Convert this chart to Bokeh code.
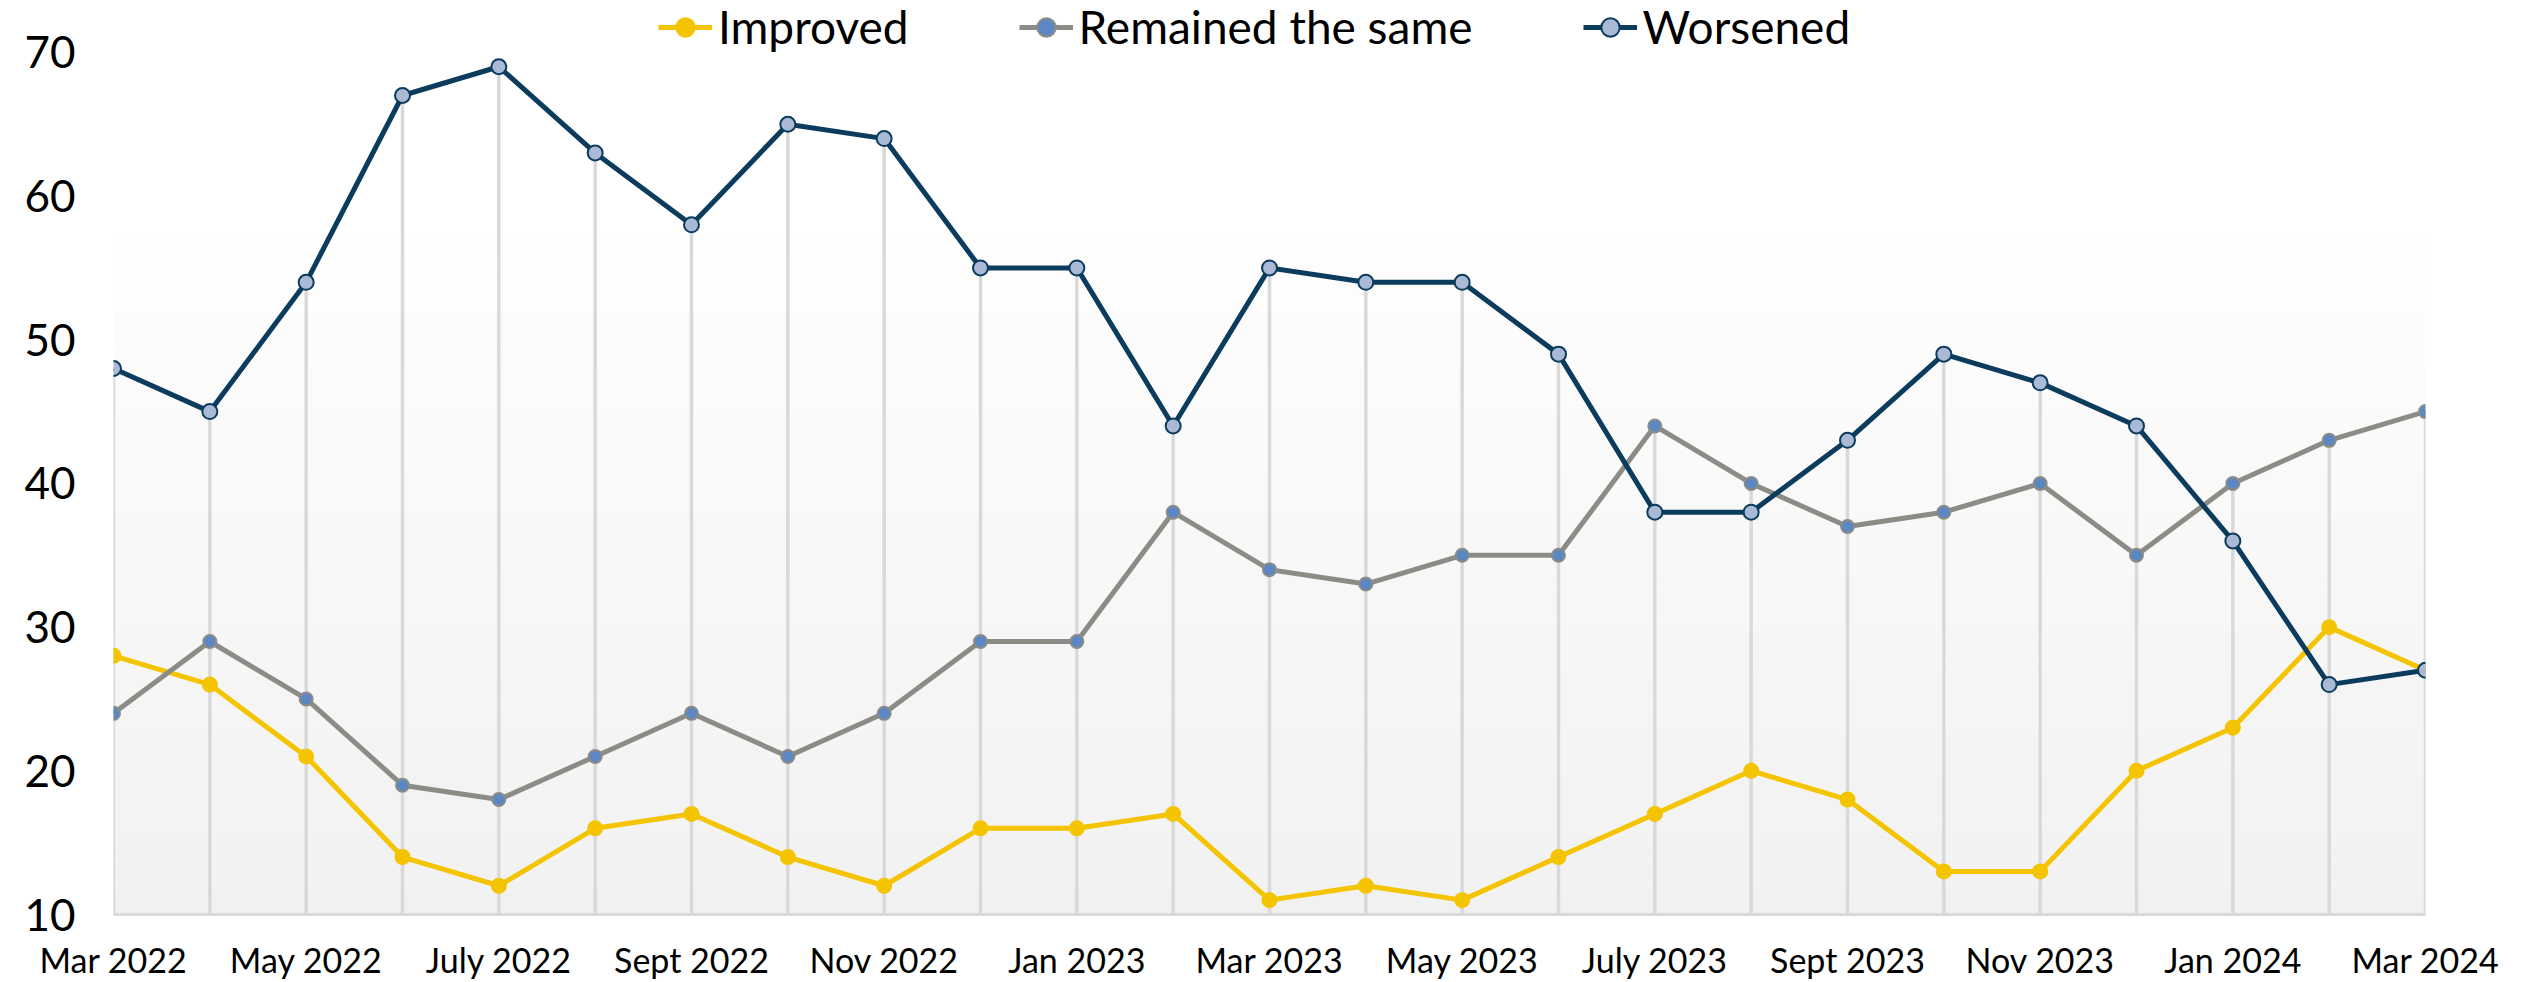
import numpy as np
from bokeh.plotting import figure
from bokeh.models import Range1d, FixedTicker, Legend, LegendItem
from bokeh.embed import file_html
from bokeh.resources import INLINE

months = ["Mar 2022", "Apr 2022", "May 2022", "Jun 2022", "July 2022", "Aug 2022",
          "Sept 2022", "Oct 2022", "Nov 2022", "Dec 2022", "Jan 2023", "Feb 2023",
          "Mar 2023", "Apr 2023", "May 2023", "Jun 2023", "July 2023", "Aug 2023",
          "Sept 2023", "Oct 2023", "Nov 2023", "Dec 2023", "Jan 2024", "Feb 2024",
          "Mar 2024"]
improved = [28, 26, 21, 14, 12, 16, 17, 14, 12, 16, 16, 17, 11, 12, 11, 14, 17, 20,
            18, 13, 13, 20, 23, 30, 27]
remained = [24, 29, 25, 19, 18, 21, 24, 21, 24, 29, 29, 38, 34, 33, 35, 35, 44, 40,
            37, 38, 40, 35, 40, 43, 45]
worsened = [48, 45, 54, 67, 69, 63, 58, 65, 64, 55, 55, 44, 55, 54, 54, 49, 38, 38,
            43, 49, 47, 44, 36, 26, 27]
series_names = ["Improved", "Remained the same", "Worsened"]
y_ticks = [10, 20, 30, 40, 50, 60, 70]
label_every = 2

FONT = "Lato"
x = np.arange(len(months))

# frame spans the whole height above the x axis; values 10..70 occupy the lower 864 px
frame_h = 916
y_lo, y_hi_tick = 10, 70
y_top = y_lo + frame_h * (y_hi_tick - y_lo) / 864.0

p = figure(width=2531, height=982, output_backend="svg", toolbar_location=None,
           x_range=Range1d(0, len(months) - 1), y_range=Range1d(y_lo, y_top),
           min_border_left=113, min_border_right=106, min_border_top=0,
           min_border_bottom=66)
p.outline_line_color = None
p.background_fill_color = "white"
p.border_fill_color = "white"
p.xgrid.visible = False
p.ygrid.visible = False

# gradient plot-area background (style only)
g_top, g_bot = 57.5, 10.0
nb = 60
edges = np.linspace(g_bot, g_top, nb + 1)
c_top = np.array([0xfe, 0xfe, 0xfe])
c_bot = np.array([0xf1, 0xf1, 0xf1])
cols = []
for i in range(nb):
    t = (i + 0.5) / nb
    c = (c_bot * (1 - t) + c_top * t).round().astype(int)
    cols.append("#%02x%02x%02x" % tuple(c))
p.quad(left=0, right=len(months) - 1, bottom=edges[:-1], top=edges[1:],
       fill_color=cols, line_color=None)

# drop lines from highest series value to the axis
hi = np.max(np.vstack([improved, remained, worsened]), axis=0)
p.segment(x0=x, y0=10, x1=x, y1=hi, line_color="#d9d9d9", line_width=3.5)

specs = [
    (improved, "#f5c400", "#f5c400", "#f5c400", 14),
    (remained, "#8c8c87", "#5b87c5", "#8c8c87", 13),
    (worsened, "#0b3c5d", "#a9b9d6", "#0b3c5d", 15),
]
items = []
for (vals, lc, mf, ml, ms), name in zip(specs, series_names):
    lr = p.line(x, vals, line_color=lc, line_width=5)
    sr = p.scatter(x, vals, size=ms, fill_color=mf, line_color=ml, line_width=2)
    items.append(LegendItem(label=name, renderers=[lr, sr]))

legend = Legend(items=items, orientation="horizontal", location=(545, 860),
                label_text_font=FONT, label_text_font_size="46px",
                label_text_color="black", glyph_width=54, glyph_height=46,
                label_standoff=6, spacing=110, padding=0, margin=0,
                border_line_color=None, background_fill_alpha=0)
p.add_layout(legend)

p.yaxis.ticker = FixedTicker(ticks=y_ticks)
p.yaxis.axis_line_color = None
p.yaxis.major_tick_line_color = None
p.yaxis.minor_tick_line_color = None
p.yaxis.major_tick_out = 0
p.yaxis.major_label_standoff = 38
p.yaxis.major_label_text_font = FONT
p.yaxis.major_label_text_font_size = "44px"
p.yaxis.major_label_text_color = "black"

p.xaxis.ticker = FixedTicker(ticks=list(x[::label_every]))
p.xaxis.major_label_overrides = {int(i): months[i] for i in x[::label_every]}
p.xaxis.axis_line_color = "#d9d9d9"
p.xaxis.axis_line_width = 3
p.xaxis.major_tick_line_color = None
p.xaxis.minor_tick_line_color = None
p.xaxis.major_tick_out = 0
p.xaxis.major_label_standoff = 24
p.xaxis.major_label_text_font = FONT
p.xaxis.major_label_text_font_size = "34px"
p.xaxis.major_label_text_color = "black"

open("out.html", "w").write(file_html(p, INLINE))
